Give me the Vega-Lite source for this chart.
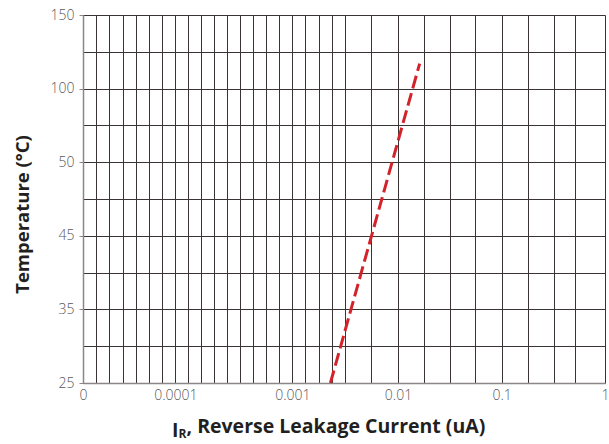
{
  "$schema": "https://vega.github.io/schema/vega-lite/v6.json",
  "autosize": "none",
  "width": 522,
  "height": 368,
  "padding": {"left": 83, "top": 15, "right": 4, "bottom": 61},
  "background": "white",
  "title": {
    "text": "I",
    "orient": "bottom",
    "anchor": "start",
    "frame": "group",
    "font": "Open Sans",
    "fontSize": 19.5,
    "fontWeight": "bold",
    "color": "#231f20",
    "baseline": "alphabetic",
    "dx": 89,
    "dy": -2,
    "offset": 0
  },
  "data": {
    "values": [
      {"current": 0.00424, "temp": 25},
      {"current": 0.0288, "temp": 117}
    ]
  },
  "resolve": {"axis": {"y": "independent"}},
  "encoding": {
    "x": {
      "field": "current",
      "type": "quantitative",
      "scale": {
        "domain": [0, 0.0001, 0.001, 0.01, 0.1, 1],
        "range": [0, 92.4, 209.4, 315, 418.7, 522],
        "nice": false,
        "zero": false
      },
      "axis": {
        "title": ", Reverse Leakage Current (uA)",
        "values": [0, 0.0000142857, 0.0000285714, 0.0000428571, 0.0000571429, 0.0000714286, 0.0000857143, 0.0001, 0.0002, 0.0003, 0.0004, 0.0005, 0.0006, 0.0007, 0.0008, 0.0009, 0.001, 0.002108, 0.003241, 0.004375, 0.0055, 0.007733, 0.01, 0.0323, 0.05487, 0.07717, 0.1, 0.3287, 0.5548, 0.7374, 1],
        "labelExpr": "indexof([0, 0.0001, 0.001, 0.01, 0.1, 1], datum.value) >= 0 ? (datum.value == 0 ? '0' : datum.value == 1 ? '1' : format(datum.value, '~g')) : ''",
        "ticks": false,
        "labelPadding": 5,
        "labelFlush": false,
        "labelOverlap": false,
        "titleFontSize": 19.5,
        "titleX": 103,
        "titleY": 49,
        "titleAlign": "left",
        "titleBaseline": "alphabetic"
      }
    }
  },
  "layer": [
    {
      "mark": {"type": "line", "color": "#d2232a", "strokeWidth": 3, "strokeDash": [13, 5], "clip": false},
      "encoding": {
        "y": {
          "field": "temp",
          "type": "quantitative",
          "scale": {
            "domain": [25, 35, 45, 50, 100, 150],
            "range": [368, 294.4, 220.8, 147.2, 73.6, 0],
            "nice": false,
            "zero": false
          },
          "axis": {
            "title": "Temperature (°C)",
            "orient": "left",
            "values": [25, 30, 35, 40, 45, 47.5, 50, 75, 100, 125, 150],
            "labelExpr": "indexof([25, 35, 45, 50, 100, 150], datum.value) >= 0 ? datum.label : ''",
            "tickSize": 4,
            "tickOpacity": {"condition": {"test": "indexof([25, 35, 45, 50, 100, 150], datum.value) >= 0", "value": 1}, "value": 0},
            "labelPadding": 5,
            "labelFlush": false,
            "labelOverlap": false,
            "titleFontSize": 18.5,
            "titleX": -55,
            "titleY": 199,
            "titleAlign": "center",
            "titleBaseline": "alphabetic",
            "titleAngle": -90
          }
        }
      }
    },
    {
      "mark": {"type": "line", "opacity": 0},
      "encoding": {
        "y": {
          "field": "temp",
          "type": "quantitative",
          "axis": {
            "orient": "right",
            "title": "R",
            "grid": false,
            "domain": false,
            "ticks": false,
            "labels": false,
            "titleFontSize": 12,
            "titleAngle": 0,
            "titleX": -427,
            "titleY": 422,
            "titleAlign": "left",
            "titleBaseline": "alphabetic"
          }
        }
      }
    }
  ],
  "config": {
    "view": {"stroke": null},
    "axis": {
      "grid": true,
      "gridColor": "#3a3333",
      "gridOpacity": 1,
      "gridWidth": 1,
      "domainColor": "#8c8686",
      "domainWidth": 1.5,
      "tickColor": "#8c8686",
      "tickWidth": 1,
      "labelFont": "Open Sans",
      "labelFontSize": 14,
      "labelFontWeight": 300,
      "labelColor": "#58585a",
      "titleFont": "Open Sans",
      "titleFontWeight": "bold",
      "titleColor": "#231f20"
    }
  }
}
